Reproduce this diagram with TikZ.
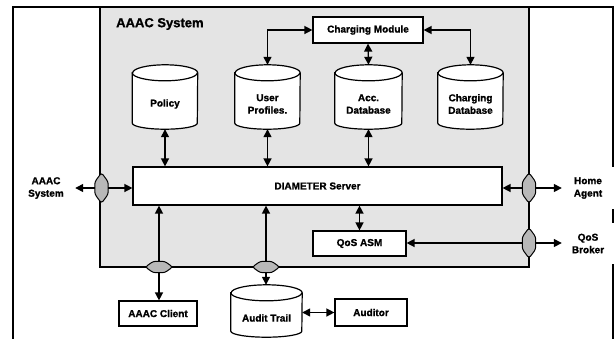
\documentclass[tikz,border=0pt]{standalone}
\usepackage{fontspec}
\setmainfont{Liberation Sans}[BoldFeatures={FakeBold=1.2}]
\usetikzlibrary{arrows.meta,calc}
\definecolor{sysgray}{HTML}{E4E4E4}
\definecolor{gwgray}{HTML}{B8B8B8}

% database cylinder drawn round an invisible node: #1 node, #2 half width
\newcommand\dbdraw[2]{%
  \draw[boxline, fill=white] ([yshift=-8pt]#1.north west) -- ([yshift=6pt]#1.south west)
     arc[start angle=180, end angle=360, x radius=#2, y radius=6pt]
     -- ([yshift=-8pt]#1.north east)
     arc[start angle=0, end angle=180, x radius=#2, y radius=8pt] -- cycle;
  \draw[boxline] ([yshift=-8pt]#1.north west)
     arc[start angle=180, end angle=360, x radius=#2, y radius=8pt];}
% gateway lozenges, vertical and horizontal
\newcommand\gwv[1]{%
  \draw[gwfill] (#1.north) -- ([yshift=-9pt]#1.north east) -- ([yshift=9pt]#1.south east)
     -- (#1.south) -- ([yshift=9pt]#1.south west) -- ([yshift=-9pt]#1.north west) -- cycle;}
\newcommand\gwh[1]{%
  \draw[gwfill] (#1.west) -- ([xshift=8pt]#1.north west) -- ([xshift=-8pt]#1.north east)
     -- (#1.east) -- ([xshift=-8pt]#1.south east) -- ([xshift=8pt]#1.south west) -- cycle;}

\begin{document}
\begin{tikzpicture}[x=1pt,y=-1pt,
  lbl/.style={font=\fontsize{10}{12.5}\selectfont\bfseries},
  boxline/.style={line width=1.2pt},
  box/.style={draw, boxline, fill=white, inner sep=0pt, lbl},
  dbbody/.style={inner sep=0pt, draw=none},
  dbtext/.style={lbl, align=center, inner sep=0pt},
  gwbody/.style={inner sep=0pt, draw=none},
  gwfill/.style={draw, line width=1pt, fill=gwgray, rounded corners=2.5pt},
  extlabel/.style={lbl, align=center, inner sep=0pt},
  tipc/.tip={Triangle[length=8pt,width=8pt]},
  both/.style={line width=1.4pt, tipc-tipc},
  arr/.style={line width=1.4pt, -tipc}
]
\useasboundingbox (0,0) rectangle (615,338);

% outer frame (open at the bottom)
\draw[boxline] (13,340) -- (13,7) -- (613,7) -- (613,340);

% AAAC system area
\draw[boxline, fill=sysgray] (100,7) rectangle (529,267);
\node[anchor=west, inner sep=0pt, font=\fontsize{13}{15}\selectfont\bfseries] (title) at (116,24) {AAAC System};

% boxes
\node[box, minimum width=110pt, minimum height=26pt] (cm) at (368,30) {Charging Module};
\node[box, minimum width=369pt, minimum height=38pt] (diam) at (317.5,186) {DIAMETER Server};
\node[box, minimum width=93pt, minimum height=25pt] (qos) at (359.5,243.5) {QoS ASM};
\node[box, minimum width=78pt, minimum height=25pt] (client) at (158,313.5) {AAAC Client};
\node[box, minimum width=72pt, minimum height=27pt] (auditor) at (371,312.5) {Auditor};

% databases
\node[dbbody, minimum width=65pt, minimum height=64pt] (policy) at (165,97) {};
\dbdraw{policy}{32.5pt}
\node[dbtext] at ([yshift=-7pt]policy.center) {Policy};
\node[dbbody, minimum width=65pt, minimum height=64pt] (user) at (267.5,97) {};
\dbdraw{user}{32.5pt}
\node[dbtext] at ([yshift=-7pt]user.center) {User\\Profiles.};
\node[dbbody, minimum width=67pt, minimum height=64pt] (acc) at (368.5,97) {};
\dbdraw{acc}{33.5pt}
\node[dbtext] at ([yshift=-7pt]acc.center) {Acc.\\Database};
\node[dbbody, minimum width=65pt, minimum height=64pt] (chg) at (470.5,97) {};
\dbdraw{chg}{32.5pt}
\node[dbtext] at ([yshift=-7pt]chg.center) {Charging\\Database};
\node[dbbody, minimum width=71pt, minimum height=52pt] (audit) at (266.5,311) {};
\dbdraw{audit}{35.5pt}
\node[dbtext] at ([yshift=-7pt]audit.center) {Audit Trail};

% external labels
\node[extlabel, minimum width=58pt] (extsys) at (46,188) {AAAC\\System};
\node[extlabel, fill=white, minimum width=52pt, minimum height=42pt] (home) at (588,188) {Home\\Agent};
\node[extlabel, fill=white, minimum width=52pt, minimum height=41pt] (broker) at (588,243.5) {QoS\\Broker};

% gateways
\node[gwbody, minimum width=13pt, minimum height=30pt] (gwl) at (101.5,188) {};
\gwv{gwl}
\node[gwbody, minimum width=13pt, minimum height=30pt] (gwr) at (529,188) {};
\gwv{gwr}
\node[gwbody, minimum width=13pt, minimum height=30pt] (gwq) at (529,243) {};
\gwv{gwq}
\node[gwbody, minimum width=27pt, minimum height=11pt] (gwc) at (159,267) {};
\gwh{gwc}
\node[gwbody, minimum width=27pt, minimum height=11pt] (gwa) at (266,267) {};
\gwh{gwa}

% connectors
\draw[both] (user.north) |- (cm.west);
\draw[both] (cm.east) -| (chg.north);
\draw[both] (cm.south) -- (acc.north);
\draw[both] (policy.south) -- (policy.south |- diam.north);
\draw[both] (user.south) -- (user.south |- diam.north);
\draw[both] (acc.south) -- (acc.south |- diam.north);
\draw[both] (qos.north) -- (qos.north |- diam.south);
\draw[arr] (gwl.west) -- (gwl.west -| extsys.east);
\draw[arr] (gwl.east) -- (gwl.east -| diam.west);
\draw[arr] (gwr.west) -- (gwr.west -| diam.east);
\draw[arr] (gwr.east) -- (gwr.east -| home.west);
\draw[arr] (gwq.west) -- (gwq.west -| qos.east);
\draw[arr] (gwq.east) -- (gwq.east -| broker.west);
\draw[arr] (gwc.north) -- (gwc.north |- diam.south);
\draw[arr] (gwc.south) -- (gwc.south |- client.north);
\draw[arr] (gwa.north) -- (gwa.north |- diam.south);
\draw[arr] (gwa.south) -- (gwa.south |- audit.north);
\draw[both] (audit.east |- auditor.west) -- (auditor.west);
\end{tikzpicture}
\end{document}
